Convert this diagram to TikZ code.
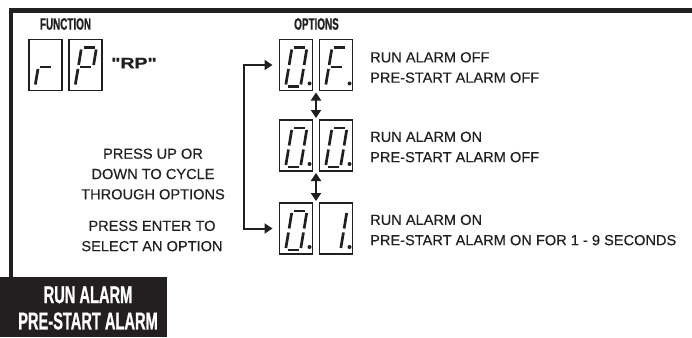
\documentclass[tikz,border=0pt]{standalone}
\usepackage{fontspec}
\setmainfont{Liberation Sans}[FakeBold=0.3]
\newfontfamily\condfont{Liberation Sans}[FakeStretch=0.6,FakeBold=0.8]
\newfontfamily\widefont{Liberation Sans}[FakeStretch=1.3,FakeBold=1.2]
\usetikzlibrary{arrows.meta,calc}
\definecolor{ink}{RGB}{35,31,32}
\newcommand\lcdnum[3]{%
  \begin{scope}[shift={(#1.north west)}]
    \coordinate (TL) at (12.5,8);  \coordinate (TR) at (27.5,8);
    \coordinate (ML) at (9.3,27.5); \coordinate (MR) at (24.3,27.5);
    \coordinate (BL) at (6,47);  \coordinate (BR) at (21,47);
    \foreach \p/\q in {#2} {\draw[segm] (\p) -- (\q);}
    \ifnum#3=1 \fill[ink] (30,44) circle[radius=2pt];\fi
  \end{scope}}
\begin{document}
\begin{tikzpicture}[x=1pt,y=-1pt,
  dbox/.style={draw=ink,line width=1.2pt,minimum width=33pt,minimum height=51pt,inner sep=0pt,outer sep=0pt},
  segm/.style={draw=ink,line width=2.7pt,shorten <=2pt,shorten >=2pt},
  hdr/.style={font=\condfont\bfseries\fontsize{16.5}{18}\selectfont,text=ink,inner sep=0pt},
  txt/.style={font=\fontsize{14.6}{20.3}\selectfont,text=ink,inner sep=0pt},
  dbl/.style={draw=ink,line width=2pt,arrows={Triangle[width=10pt,length=8pt]-Triangle[width=10pt,length=8pt]}}]
\useasboundingbox (0,0) rectangle (692,337);
% frame
\fill[ink] (9,8.5) rectangle (692,13.3);
\fill[ink] (9,8.5) rectangle (13.3,277);
\fill[ink] (0,277) rectangle (167,337);
\node[font=\condfont\bfseries\fontsize{24.4}{26.3}\selectfont,text=white,align=center,inner sep=0pt] (title) at (88,308) {RUN ALARM\\PRE-START ALARM};
% headers
\node[hdr] (hfun) at (65.5,24) {FUNCTION};
\node[hdr] (hopt) at (316.5,24) {OPTIONS};
% function display
\node[dbox] (f1) at (45.5,65) {};
\node[dbox] (f2) at (85.5,65) {};
\node[font=\widefont\bfseries\fontsize{15}{17}\selectfont,text=ink,inner sep=0pt] (rp) at (134,63) {"RP"};
\lcdnum{f1}{ML/MR,ML/BL}{0}
\lcdnum{f2}{TL/TR,TR/MR,TL/ML,ML/MR,ML/BL}{0}
% option displays
\node[dbox] (o1a) at (296,65) {};
\node[dbox] (o1b) at (336,65) {};
\node[dbox] (o2a) at (296,145.5) {};
\node[dbox] (o2b) at (336,145.5) {};
\node[dbox] (o3a) at (296,228.5) {};
\node[dbox] (o3b) at (336,228.5) {};
\lcdnum{o1a}{TL/TR,TR/MR,MR/BR,BL/BR,ML/BL,TL/ML}{1}
\lcdnum{o1b}{TL/TR,TL/ML,ML/BL,ML/MR}{1}
\lcdnum{o2a}{TL/TR,TR/MR,MR/BR,BL/BR,ML/BL,TL/ML}{1}
\lcdnum{o2b}{TL/TR,TR/MR,MR/BR,BL/BR,ML/BL,TL/ML}{1}
\lcdnum{o3a}{TL/TR,TR/MR,MR/BR,BL/BR,ML/BL,TL/ML}{1}
\lcdnum{o3b}{TR/MR,MR/BR}{1}
% option texts
\node[txt,align=left,anchor=west] (t1) at (370,67.5) {RUN ALARM OFF\\PRE-START ALARM OFF};
\node[txt,align=left,anchor=west] (t2) at (370,147) {RUN ALARM ON\\PRE-START ALARM OFF};
\node[txt,align=left,anchor=west] (t3) at (370,230) {RUN ALARM ON\\PRE-START ALARM ON FOR 1 - 9 SECONDS};
% instructions
\node[txt,align=center] (i1) at (153,174) {PRESS UP OR\\DOWN TO CYCLE\\THROUGH OPTIONS};
\node[txt,align=center] (i2) at (152,236) {PRESS ENTER TO\\SELECT AN OPTION};
% connectors
\coordinate (m1) at ($(o1a.south east)!0.5!(o1b.south west)$);
\coordinate (m2) at ($(o2a.north east)!0.5!(o2b.north west)$);
\coordinate (m3) at ($(o2a.south east)!0.5!(o2b.south west)$);
\coordinate (m4) at ($(o3a.north east)!0.5!(o3b.north west)$);
\draw[dbl] ([yshift=-2pt]m1) -- ([yshift=2pt]m2);
\draw[dbl] ([yshift=-2pt]m3) -- ([yshift=2pt]m4);
\draw[dbl] ([xshift=-7pt]o1a.west) -- ++(-29,0) |- ([xshift=-7pt]o3a.west);
\end{tikzpicture}
\end{document}
